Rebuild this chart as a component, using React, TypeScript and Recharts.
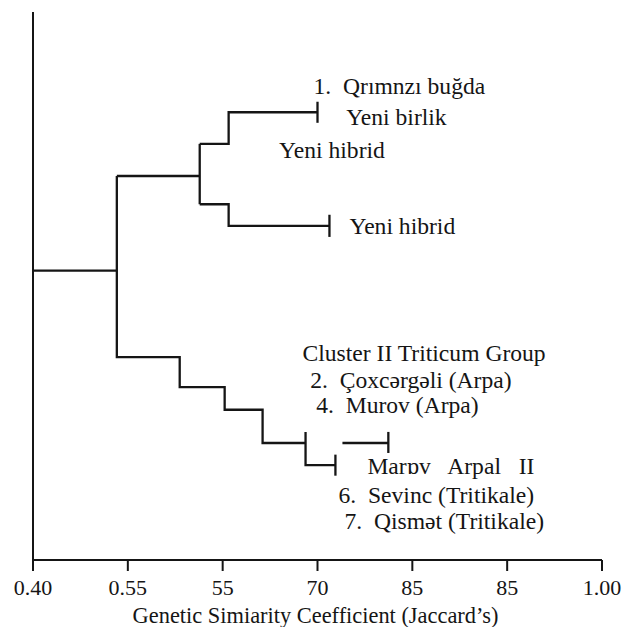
import { LineChart, Line, XAxis, YAxis, ReferenceDot, ReferenceLine } from 'recharts';

// x is in tick-index units (0..6), y is row height (0 = bottom, 100 = top)
const xTicks = [0, 1, 2, 3, 4, 5, 6];
const xTickLabels = ['0.40', '0.55', '55', '70', '85', '85', '1.00'];

type Pt = [number, number];

const rootLink: Pt[][] = [[[0, 53.3], [0.884, 53.3]]];

const clusterI: Pt[][] = [
  [[0.884, 70.4], [1.758, 70.4]],
  [[1.758, 76.2], [1.758, 65.3]],
  [[1.758, 76.2], [2.063, 76.2], [2.063, 81.9], [3.0, 81.9]],
  [[3.0, 83.8], [3.0, 80.0]],
  [[1.758, 65.3], [2.063, 65.3], [2.063, 61.4], [3.126, 61.4]],
  [[3.126, 63.4], [3.126, 59.4]],
];

const clusterII: Pt[][] = [
  [[0.884, 70.4], [0.884, 37.7], [1.547, 37.7], [1.547, 32.3], [2.021, 32.3], [2.021, 28.2], [2.421, 28.2], [2.421, 22.2], [2.874, 22.2]],
  [[2.874, 24.2], [2.874, 18.2], [3.189, 18.2]],
  [[3.189, 20.1], [3.189, 16.3]],
  [[3.263, 22.2], [3.747, 22.2]],
  [[3.747, 24.2], [3.747, 20.4]],
];

const labelTexts = [
  '1.  Qrımnzı buğda',
  'Yeni birlik',
  'Yeni hibrid',
  'Yeni hibrid',
  'Cluster II Triticum Group',
  '2.  Çoxcərgəli (Arpa)',
  '4.  Murov (Arpa)',
  'Marɒv   Arpal   II',
  '6.  Sevinc (Tritikale)',
  '7.  Qismət (Tritikale)',
];
const labelX = [2.958, 3.302, 2.595, 3.337, 2.842, 2.923, 2.986, 3.526, 3.221, 3.284];
const labelY = [86.7, 81.1, 75.1, 61.4, 38.5, 33.6, 29.0, 18.1, 12.8, 8.2];

const INK = '#151515';
const FONT = '"Liberation Serif", "Times New Roman", serif';

const allPaths = [...rootLink, ...clusterI, ...clusterII].map((p) => p.map(([x, y]) => ({ x, y })));

const LeafLabel = (props: any) => {
  const vb = props?.viewBox ?? { x: 0, y: 0, width: 0, height: 0 };
  return (
    <text
      x={vb.x + vb.width / 2}
      y={vb.y + vb.height / 2}
      dy="0.34em"
      fontSize={23.6}
      fill={INK}
      fontFamily={FONT}
      style={{ whiteSpace: 'pre' }}
    >
      {props.text}
    </text>
  );
};

const AxisTitle = (props: any) => {
  const vb = props?.viewBox ?? { x: 0, y: 0, width: 0, height: 0 };
  return (
    <text
      x={vb.x + vb.width / 2 - 2}
      y={vb.y + vb.height}
      textAnchor="middle"
      fontSize={22.4}
      fill={INK}
      fontFamily={FONT}
    >
      Genetic Simiarity Ceefficient (Jaccard’s)
    </text>
  );
};

export default function App() {
  return (
    <div style={{ position: 'absolute', left: 0, top: 0, background: '#fff', fontFamily: FONT }}>
      <LineChart width={627} height={627} margin={{ top: 12, right: 25, left: 33, bottom: 4 }}>
        <XAxis
          type="number"
          dataKey="x"
          domain={[0, 6]}
          ticks={xTicks}
          tickFormatter={(v: number) => xTickLabels[v] ?? ''}
          axisLine={{ stroke: INK, strokeWidth: 2 }}
          tickLine={{ stroke: INK, strokeWidth: 2 }}
          tickSize={11}
          tickMargin={8}
          tick={{ fill: INK, fontSize: 22, fontFamily: FONT }}
          height={63}
          interval={0}
          label={<AxisTitle />}
        />
        <YAxis type="number" domain={[1.08, 100]} hide />
        <ReferenceLine x={0} stroke={INK} strokeWidth={2} />
        {allPaths.map((d, i) => (
          <Line
            key={i}
            data={d}
            dataKey="y"
            type="linear"
            stroke={INK}
            strokeWidth={2.3}
            dot={false}
            activeDot={false}
            isAnimationActive={false}
          />
        ))}
        {labelTexts.map((t, i) => (
          <ReferenceDot
            key={'l' + i}
            x={labelX[i]}
            y={labelY[i]}
            r={0}
            fill="none"
            stroke="none"
            label={(p: any) => <LeafLabel {...p} text={t} />}
          />
        ))}
      </LineChart>
    </div>
  );
}
